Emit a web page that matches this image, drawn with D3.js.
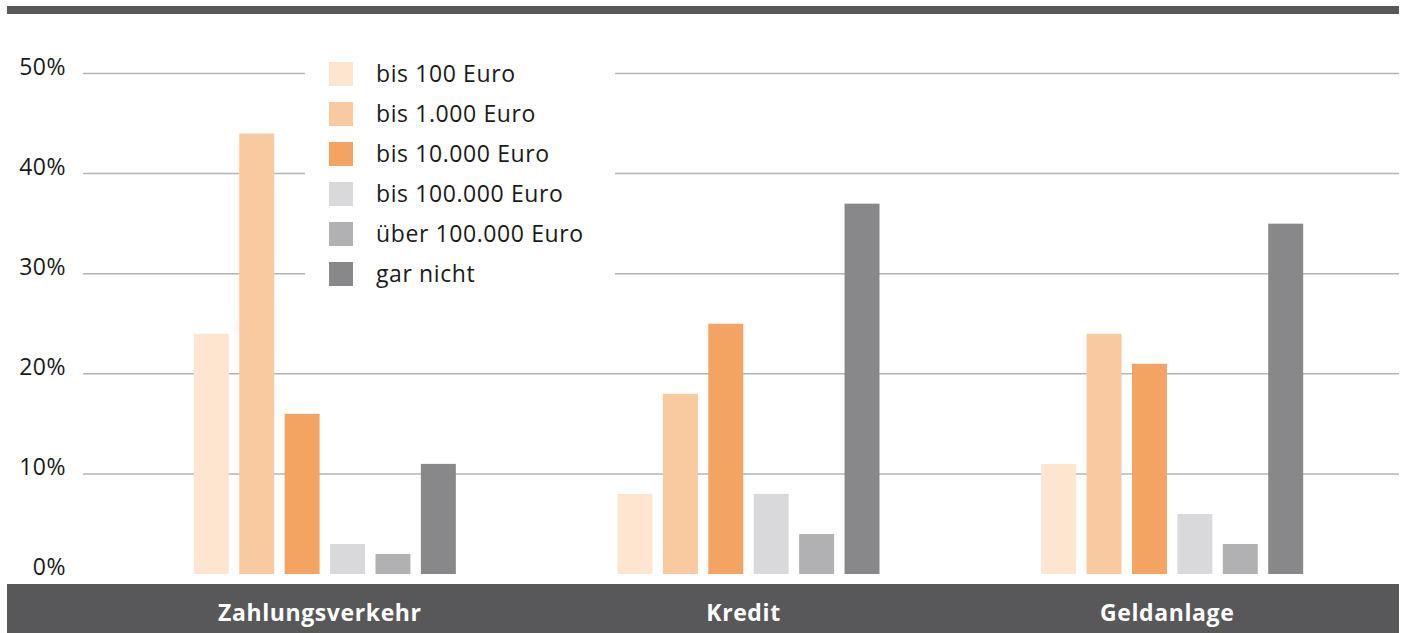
<!DOCTYPE html>
<html>
<head>
<meta charset="utf-8">
<script src="https://cdn.jsdelivr.net/npm/d3@7"></script>
<style>
  body { margin: 0; background: #fff; }
  svg { display: block; font-family: "Open Sans", sans-serif; }
</style>
</head>
<body>
<svg id="chart" width="1403" height="633"></svg>
<script>
const categories = ["Zahlungsverkehr", "Kredit", "Geldanlage"];
const seriesNames = ["bis 100 Euro", "bis 1.000 Euro", "bis 10.000 Euro", "bis 100.000 Euro", "über 100.000 Euro", "gar nicht"];
const seriesColors = ["#fde5d0", "#f9c9a0", "#f3a463", "#d9d9db", "#b1b1b3", "#88888a"];
const bis100 = [24, 8, 11];
const bis1000 = [44, 18, 24];
const bis10000 = [16, 25, 21];
const bis100000 = [3, 8, 6];
const ueber100000 = [2, 4, 3];
const garNicht = [11, 37, 35];
const yTicks = [0, 10, 20, 30, 40, 50];

const seriesValues = [bis100, bis1000, bis10000, bis100000, ueber100000, garNicht];
const data = categories.map((c, i) => ({
  category: c,
  values: seriesNames.map((s, j) => ({ key: s, value: seriesValues[j][i] }))
}));

const svg = d3.select("#chart");

const x0 = d3.scaleBand()
    .domain(categories)
    .range([113, 1384]);

const x1 = d3.scaleBand()
    .domain(seriesNames)
    .range([0, x0.bandwidth()])
    .paddingInner(0.23)
    .paddingOuter(1.78);

const y = d3.scaleLinear()
    .domain([0, 50])
    .range([574, 73.5]);

const color = d3.scaleOrdinal().domain(seriesNames).range(seriesColors);

// top rule
svg.append("rect")
    .attr("x", 7).attr("y", 6)
    .attr("width", 1392).attr("height", 8)
    .attr("fill", "#58585a");

// gridlines
svg.append("g")
    .selectAll("line")
    .data(yTicks.filter(d => d > 0))
    .join("line")
      .attr("x1", 83).attr("x2", 1399)
      .attr("y1", d => y(d)).attr("y2", d => y(d))
      .attr("stroke", "#b4b4b4")
      .attr("stroke-width", 1.5);

// y labels
svg.append("g")
    .selectAll("text")
    .data(yTicks)
    .join("text")
      .attr("x", 66)
      .attr("y", d => y(d) + 1)
      .attr("text-anchor", "end")
      .attr("font-size", 23)
      .attr("letter-spacing", 0.5)
      .attr("fill", "#1a1a1a")
      .text(d => d + "%");

// bars
svg.append("g")
  .selectAll("g")
  .data(data)
  .join("g")
    .attr("transform", d => `translate(${x0(d.category)},0)`)
  .selectAll("rect")
  .data(d => d.values)
  .join("rect")
    .attr("x", d => x1(d.key))
    .attr("width", x1.bandwidth())
    .attr("y", d => y(d.value))
    .attr("height", d => y(0) - y(d.value))
    .attr("fill", d => color(d.key));

// bottom band with categories
svg.append("rect")
    .attr("x", 7).attr("y", 584)
    .attr("width", 1392).attr("height", 49)
    .attr("fill", "#58585a");

svg.append("g")
    .selectAll("text")
    .data(categories)
    .join("text")
      .attr("x", d => x0(d) + x0.bandwidth() / 2 - 5)
      .attr("y", 621)
      .attr("text-anchor", "middle")
      .attr("font-size", 23)
      .attr("font-weight", "bold")
      .attr("letter-spacing", 0.6)
      .attr("fill", "#ffffff")
      .text(d => d);

// legend
const legend = svg.append("g");
legend.append("rect")
    .attr("x", 305).attr("y", 55)
    .attr("width", 310).attr("height", 240)
    .attr("fill", "#ffffff");

const item = legend.selectAll("g")
    .data(seriesNames)
    .join("g")
      .attr("transform", (d, i) => `translate(329,${62 + i * 40})`);

item.append("rect")
    .attr("width", 24).attr("height", 24)
    .attr("fill", d => color(d));

item.append("text")
    .attr("x", 47)
    .attr("y", 20)
    .attr("font-size", 23)
    .attr("letter-spacing", 0.6)
    .attr("fill", "#1a1a1a")
    .text(d => d);
</script>
</body>
</html>
